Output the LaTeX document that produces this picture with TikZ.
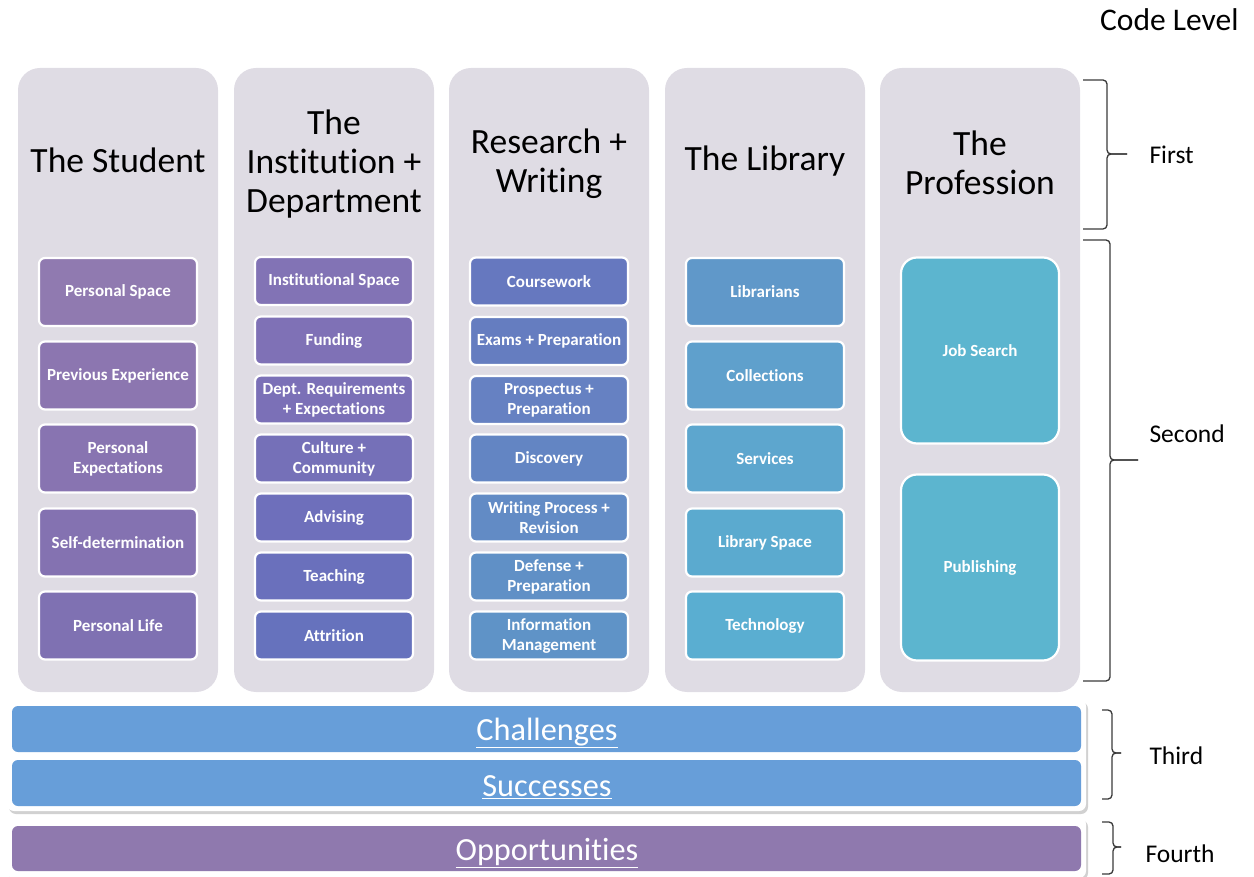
\documentclass[tikz,border=0pt]{standalone}
\usepackage{fontspec}
\setmainfont{Carlito}[Ligatures={NoCommon}]
\definecolor{colbg}{HTML}{DFDCE4}
\definecolor{barblue}{HTML}{679ED9}
\definecolor{barpurple}{HTML}{8F79AE}
\definecolor{bracegray}{HTML}{3A3A3A}
\definecolor{aA}{HTML}{907AB0}\definecolor{aB}{HTML}{8C76B0}\definecolor{aC}{HTML}{8874B1}\definecolor{aD}{HTML}{8472B1}\definecolor{aE}{HTML}{7F71B2}
\definecolor{bA}{HTML}{8273B5}\definecolor{bB}{HTML}{7F71B6}\definecolor{bC}{HTML}{7B70B7}\definecolor{bD}{HTML}{7570B8}\definecolor{bE}{HTML}{6E6FBB}\definecolor{bF}{HTML}{6A70BC}\definecolor{bG}{HTML}{6672BD}
\definecolor{cA}{HTML}{6678BF}\definecolor{cB}{HTML}{657DC0}\definecolor{cC}{HTML}{6681C2}\definecolor{cD}{HTML}{6385C3}\definecolor{cE}{HTML}{628BC5}\definecolor{cF}{HTML}{6090C6}\definecolor{cG}{HTML}{5F93C7}
\definecolor{dA}{HTML}{6098C9}\definecolor{dB}{HTML}{5FA0CC}\definecolor{dC}{HTML}{5DA6CE}\definecolor{dD}{HTML}{5BAACF}\definecolor{dE}{HTML}{5AAED1}
\definecolor{eA}{HTML}{5CB5CF}
\tikzset{
  colbox/.style={fill=colbg, rounded corners=22pt, minimum width=200pt, minimum height=624pt, inner sep=0pt},
  coltitle/.style={font=\fontsize{35.5}{39}\selectfont, align=center, text=black},
  ibox/.style={draw=white, line width=2.2pt, rounded corners=6pt, text=white, align=center,
     font=\bfseries\fontsize{17}{20}\selectfont, minimum width=158pt, inner sep=1pt},
  tall/.style={ibox, minimum height=68pt},
  short/.style={ibox, minimum height=48pt},
  big/.style={ibox, minimum height=186pt, rounded corners=16pt},
  panel/.style={fill=white, rounded corners=7pt},
  panelshadow/.style={fill=black!18, rounded corners=7pt},
  bar/.style={rounded corners=6pt},
  bartext/.style={text=white, font=\fontsize{32.3}{36}\selectfont},
  lvlbrace/.style={draw=bracegray, line width=1.3pt, rounded corners=4pt},
  lvltext/.style={font=\fontsize{25.5}{29}\selectfont, anchor=west, text=black}
}
\begin{document}
\begin{tikzpicture}[x=1pt,y=-1pt]
\useasboundingbox (0,0) rectangle (1254,877);
% columns
\node[colbox] (col1) at (118,380) {};
\node[colbox] (col2) at (334,380) {};
\node[colbox] (col3) at (549,380) {};
\node[colbox] (col4) at (765,380) {};
\node[colbox] (col5) at (980,380) {};
% titles
\node[coltitle] (t1) at (118,160) {The Student};
\node[coltitle] (t2) at (334,164) {The\\Institution +\\Department};
\node[coltitle] (t3) at (549,163.5) {Research +\\Writing};
\node[coltitle] (t4) at (765,161) {The Library};
\node[coltitle] (t5) at (980,163) {The\\Profession};
% column 1
\node[tall, fill=aA] (a1) at (118,292) {Personal Space};
\node[tall, fill=aB] (a2) at (118,375.5) {Previous Experience};
\node[tall, fill=aC] (a3) at (118,458.5) {Personal\\Expectations};
\node[tall, fill=aD] (a4) at (118,542.5) {Self-determination};
\node[tall, fill=aE] (a5) at (118,625.5) {Personal Life};
% column 2
\node[short, fill=bA] (b1) at (334,281) {Institutional Space};
\node[short, fill=bB] (b2) at (334,340.5) {Funding};
\node[short, fill=bC] (b3) at (334,399.5) {Dept. Requirements\\+ Expectations};
\node[short, fill=bD] (b4) at (334,458.5) {Culture +\\Community};
\node[short, fill=bE] (b5) at (334,517.5) {Advising};
\node[short, fill=bF] (b6) at (334,576.5) {Teaching};
\node[short, fill=bG] (b7) at (334,635.5) {Attrition};
% column 3
\node[short, fill=cA] (c1) at (549,281.5) {Coursework};
\node[short, fill=cB] (c2) at (549,341) {Exams + Preparation};
\node[short, fill=cC] (c3) at (549,400) {Prospectus +\\Preparation};
\node[short, fill=cD] (c4) at (549,458.5) {Discovery};
\node[short, fill=cE] (c5) at (549,517.5) {Writing Process +\\Revision};
\node[short, fill=cF] (c6) at (549,576.5) {Defense +\\Preparation};
\node[short, fill=cG] (c7) at (549,635.5) {Information\\Management};
% column 4
\node[tall, fill=dA] (d1) at (765,292) {Librarians};
\node[tall, fill=dB] (d2) at (765,375.5) {Collections};
\node[tall, fill=dC] (d3) at (765,458.5) {Services};
\node[tall, fill=dD] (d4) at (765,542.5) {Library Space};
\node[tall, fill=dE] (d5) at (765,625.5) {Technology};
% column 5
\node[big, fill=eA] (e1) at (980,350.5) {Job Search};
\node[big, fill=eA] (e2) at (980,567.5) {Publishing};
% bottom panels
\fill[panelshadow] (9,702) rectangle (1088,814);
\fill[panel] (7,699) rectangle (1086,811);
\fill[bar, fill=barblue] (12,706) rectangle (1081,752);
\fill[bar, fill=barblue] (12,760) rectangle (1081,806);
\node[bartext] (ch) at (547,733) {\underline{Challenges}};
\node[bartext] (su) at (547,787) {\underline{Successes}};
\fill[panelshadow] (9,820) rectangle (1088,880);
\fill[panel] (7,817) rectangle (1086,878);
\fill[bar, fill=barpurple] (12,826) rectangle (1081,871);
\node[bartext] (op) at (547,853) {\underline{Opportunities}};
% braces
\coordinate (f1) at (1083,80);  \coordinate (f2) at (1083,229); \coordinate (fv) at (1107,154); \coordinate (ft) at (1127,154);
\coordinate (s1) at (1083,240); \coordinate (s2) at (1083,681); \coordinate (sv) at (1110,460); \coordinate (st) at (1138,460);
\coordinate (h1) at (1102,710); \coordinate (h2) at (1102,799); \coordinate (hv) at (1112,753); \coordinate (ht) at (1121,753);
\coordinate (q1) at (1102,822); \coordinate (q2) at (1102,874); \coordinate (qv) at (1113,847); \coordinate (qt) at (1121,847);
\foreach \a/\b/\v/\t in {f1/f2/fv/ft, s1/s2/sv/st, h1/h2/hv/ht, q1/q2/qv/qt}{
  \draw[lvlbrace] (\a) -- (\a -| \v) -- (\v) -- (\t);
  \draw[lvlbrace] (\b) -- (\b -| \v) -- (\v) -- (\t);
}
\node[lvltext] (lf) at (1146,155) {First};
\node[lvltext] (ls) at (1146,434) {Second};
\node[lvltext] (lt) at (1146,756) {Third};
\node[lvltext] (lq) at (1142,854) {Fourth};
\node[font=\fontsize{31.5}{35}\selectfont, anchor=east] (cl) at (1242,20) {Code Level};
\end{tikzpicture}
\end{document}
